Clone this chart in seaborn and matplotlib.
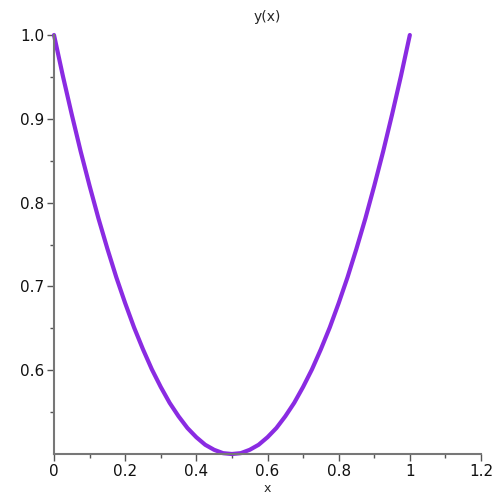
import matplotlib
matplotlib.use("Agg")
import matplotlib.pyplot as plt
import seaborn as sns
import pandas as pd

# =========================================================
# DATA
# =========================================================

x_vals = [0.0, 0.025, 0.05, 0.075, 0.1, 0.125, 0.15, 0.175, 0.2, 0.225,
          0.25, 0.275, 0.3, 0.325, 0.35, 0.375, 0.4, 0.425, 0.45, 0.475,
          0.5, 0.525, 0.55, 0.575, 0.6, 0.625, 0.65, 0.675, 0.7, 0.725,
          0.75, 0.775, 0.8, 0.825, 0.85, 0.875, 0.9, 0.925, 0.95, 0.975, 1.0]

y_vals = [1.0, 0.951, 0.905, 0.861, 0.82, 0.781, 0.745, 0.711, 0.68, 0.651,
          0.625, 0.601, 0.58, 0.561, 0.545, 0.531, 0.52, 0.511, 0.505, 0.501,
          0.5, 0.501, 0.505, 0.511, 0.52, 0.531, 0.545, 0.561, 0.58, 0.601,
          0.625, 0.651, 0.68, 0.711, 0.745, 0.781, 0.82, 0.861, 0.905, 0.951, 1.0]

x_ticks = [0, 0.2, 0.4, 0.6, 0.8, 1.0, 1.2]
x_tick_labels = ["0", "0.2", "0.4", "0.6", "0.8", "1", "1.2"]
x_minor = [0.1, 0.3, 0.5, 0.7, 0.9, 1.1]

y_ticks = [0.6, 0.7, 0.8, 0.9, 1.0]
y_tick_labels = ["0.6", "0.7", "0.8", "0.9", "1.0"]
y_minor = [0.55, 0.65, 0.75, 0.85, 0.95]

df = pd.DataFrame({"x": x_vals, "y": y_vals})

# =========================================================
# PLOT
# =========================================================

sns.set_style("ticks")
plt.rcParams["font.family"] = ["DejaVu Sans"]

fig = plt.figure(figsize=(5, 5), dpi=100)
ax = fig.add_axes([0.108, 0.092, 0.854, 0.838])

sns.lineplot(data=df, x="x", y="y", ax=ax, color="#8A2BE2",
             linewidth=3.0, sort=False)

ax.set_xlim(0, 1.2)
ax.set_ylim(0.5, 1.0)

ax.set_xticks(x_ticks)
ax.set_xticklabels(x_tick_labels)
ax.set_xticks(x_minor, minor=True)
ax.set_yticks(y_ticks)
ax.set_yticklabels(y_tick_labels)
ax.set_yticks(y_minor, minor=True)

for side in ["top", "right"]:
    ax.spines[side].set_visible(False)
for side in ["left", "bottom"]:
    ax.spines[side].set_color("#777777")
    ax.spines[side].set_linewidth(1.5)

ax.tick_params(which="major", length=5, width=1, color="#555555",
               labelsize=11, labelcolor="#111111", pad=2)
ax.tick_params(which="minor", length=3, width=1, color="#555555")

ax.set_xlabel("x", fontsize=9, labelpad=2)
ax.set_ylabel("")
ax.set_title("y(x)", fontsize=10, pad=10)
for line in ax.lines:
    line.set_clip_on(False)

fig.savefig("out.png", dpi=100)
